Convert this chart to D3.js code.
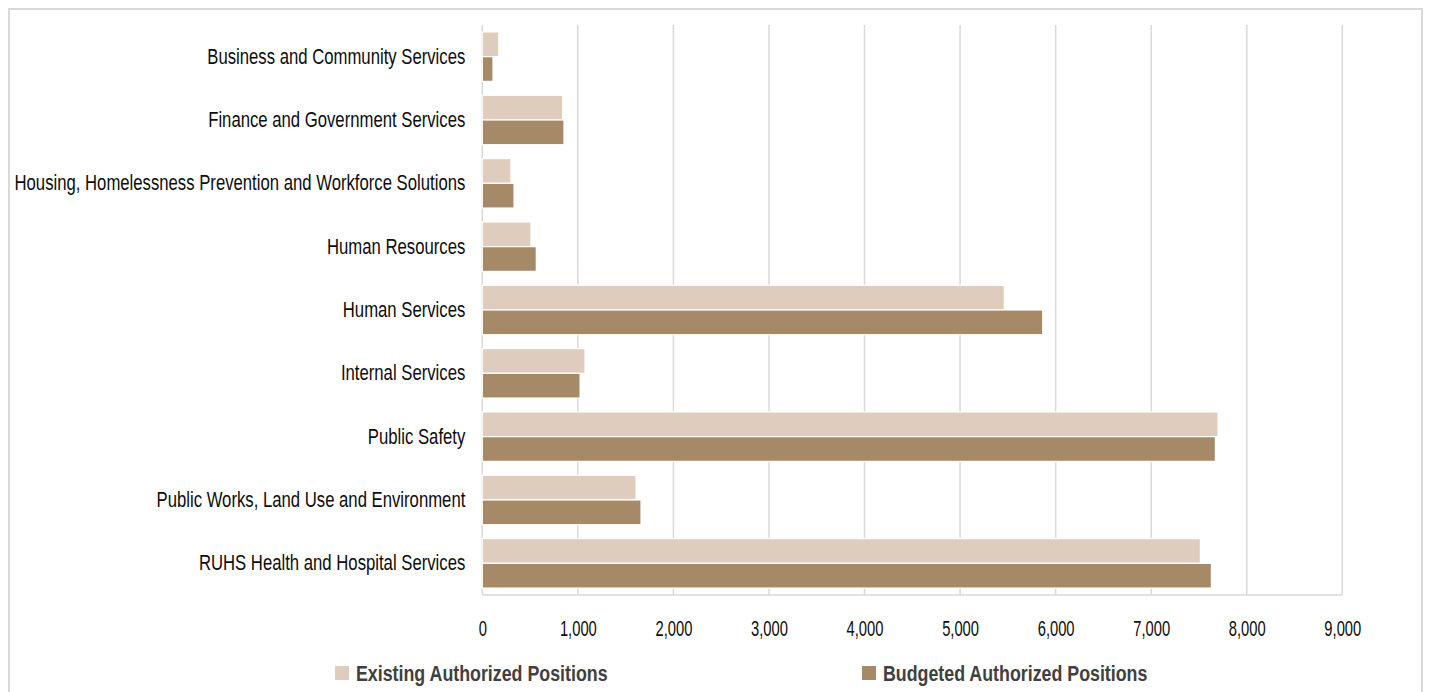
<!DOCTYPE html>
<html>
<head>
<meta charset="utf-8">
<script src="https://cdn.jsdelivr.net/npm/d3@7"></script>
<style>
  html, body { margin: 0; padding: 0; background: #fff; }
  svg { display: block; }
  text { font-family: "Liberation Sans", Arial, sans-serif; }
</style>
</head>
<body>
<svg id="chart" width="1429" height="692"></svg>
<script>
// Departments, top to bottom
const categories = [
  "Business and Community Services",
  "Finance and Government Services",
  "Housing, Homelessness Prevention and Workforce Solutions",
  "Human Resources",
  "Human Services",
  "Internal Services",
  "Public Safety",
  "Public Works, Land Use and Environment",
  "RUHS Health and Hospital Services"
];
const seriesNames = ["Existing Authorized Positions", "Budgeted Authorized Positions"];
const existingPositions = [172, 841, 300, 510, 5463, 1075, 7700, 1609, 7515];
const budgetedPositions = [112, 855, 332, 565, 5865, 1023, 7672, 1661, 7630];
const xTicks = [0, 1000, 2000, 3000, 4000, 5000, 6000, 7000, 8000, 9000];
const seriesColors = ["#DECDBC", "#A68967"];

const seriesValues = [existingPositions, budgetedPositions];
const rows = categories.map((c, i) => ({
  category: c,
  values: seriesNames.map((s, j) => ({ series: s, value: seriesValues[j][i] }))
}));

// narrow the typeface horizontally (condensed look)
function condense(sel, sx) {
  sel.each(function () {
    const t = d3.select(this);
    const x0 = +t.attr("x") || 0;
    t.attr("x", x0 / sx).attr("transform", `scale(${sx},1)`);
  });
}

const svg = d3.select("#chart");
const plot = { left: 482.3, right: 1342.3, top: 25, bottom: 595 };

// outer frame
svg.append("rect")
  .attr("x", 9).attr("y", 9)
  .attr("width", 1413).attr("height", 700)
  .attr("fill", "none").attr("stroke", "#d9d9d9").attr("stroke-width", 2);

const x = d3.scaleLinear().domain([0, 9000]).range([plot.left, plot.right]);
const y = d3.scaleBand().domain(categories).range([plot.top, plot.bottom])
  .paddingInner(0.22).paddingOuter(0.11);
const ySub = d3.scaleBand().domain(seriesNames).range([0, y.bandwidth()]);
const color = d3.scaleOrdinal().domain(seriesNames).range(seriesColors);

// vertical gridlines
svg.append("g").selectAll("line").data(xTicks).join("line")
  .attr("x1", d => x(d)).attr("x2", d => x(d))
  .attr("y1", plot.top).attr("y2", plot.bottom)
  .attr("stroke", "#d9d9d9").attr("stroke-width", 1.5);

// bottom axis line
svg.append("line")
  .attr("x1", plot.left).attr("x2", plot.right)
  .attr("y1", plot.bottom).attr("y2", plot.bottom)
  .attr("stroke", "#d9d9d9").attr("stroke-width", 1.5);

// bars
const groups = svg.append("g").selectAll("g").data(rows).join("g")
  .attr("transform", d => `translate(0,${y(d.category)})`);
groups.selectAll("rect").data(d => d.values).join("rect")
  .attr("x", x(0))
  .attr("y", d => ySub(d.series))
  .attr("width", d => x(d.value) - x(0))
  .attr("height", ySub.bandwidth())
  .attr("fill", d => color(d.series))
  .attr("stroke", "#fff").attr("stroke-width", 1.2);

// category labels
const yAxis = d3.axisLeft(y).tickSize(0).tickPadding(17);
const gy = svg.append("g").attr("transform", `translate(${plot.left},0)`).call(yAxis);
gy.select(".domain").remove();
gy.selectAll("text")
  .attr("fill", "#0d0d0d")
  .style("font-size", "22px")
  .style("font-family", null)
  .call(condense, 0.76);

// value axis labels
const xAxis = d3.axisBottom(x).tickValues(xTicks).tickFormat(d3.format(",")).tickSize(0).tickPadding(25);
const gx = svg.append("g").attr("transform", `translate(0,${plot.bottom})`).call(xAxis);
gx.select(".domain").remove();
gx.selectAll("text")
  .attr("fill", "#0d0d0d")
  .style("font-size", "22px")
  .style("font-family", null)
  .call(condense, 0.67);

// legend
const legendItems = [
  { name: seriesNames[0], x: 335 },
  { name: seriesNames[1], x: 862 }
];
const lg = svg.append("g").selectAll("g").data(legendItems).join("g")
  .attr("transform", d => `translate(${d.x},666)`);
lg.append("rect").attr("width", 14).attr("height", 14)
  .attr("fill", d => color(d.name));
lg.append("text")
  .attr("x", 21).attr("y", 7).attr("dy", "0.36em")
  .attr("fill", "#404040")
  .style("font-size", "22px").style("font-weight", "bold")
  .text(d => d.name)
  .call(condense, 0.81);
</script>
</body>
</html>
